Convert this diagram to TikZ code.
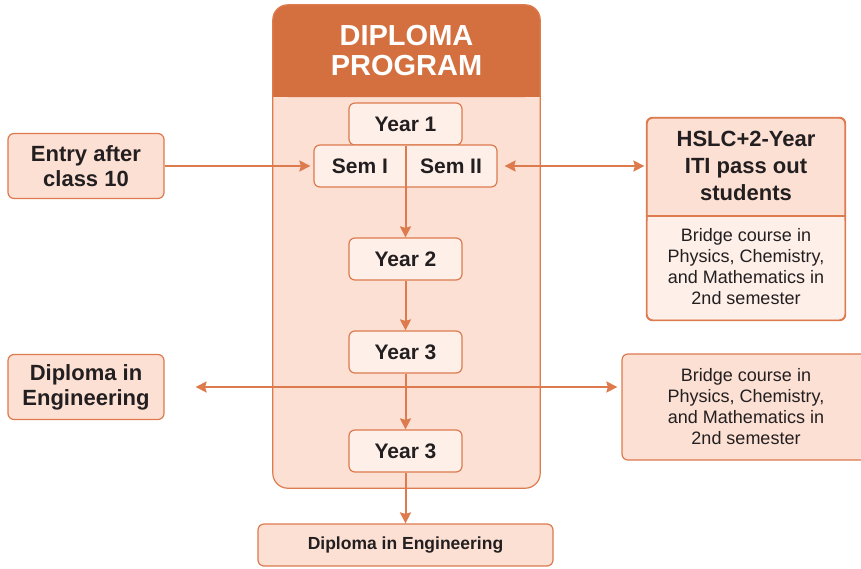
\documentclass[tikz,border=0pt]{standalone}
\usepackage{fontspec}
\setmainfont{Liberation Sans}
\usetikzlibrary{arrows.meta}
\definecolor{hdr}{HTML}{D4703F}
\definecolor{edge}{HTML}{DD7A4E}
\definecolor{lfill}{HTML}{FCE0D4}
\definecolor{llfill}{HTML}{FEF0E9}
\definecolor{ink}{HTML}{231F20}
\tikzset{
  x=1pt, y=-1pt,
  box/.style={draw=edge, line width=1.2pt, rounded corners=6pt, inner sep=0pt, text=ink, align=center},
  yearbox/.style={box, fill=llfill, minimum width=113pt, minimum height=42pt, font=\fontsize{21}{24}\selectfont\bfseries},
  sidebox/.style={box, fill=lfill, minimum width=156pt, minimum height=65pt, font=\fontsize{22}{25}\selectfont\bfseries},
  plain/.style={inner sep=0pt, text=ink, align=center},
  tip/.tip={Stealth[length=11pt,width=11pt,inset=1.5pt]},
  arr/.style={draw=edge, line width=2pt, -tip},
  darr/.style={draw=edge, line width=2pt, tip-tip},
}
\begin{document}
\begin{tikzpicture}
\useasboundingbox (0,0) rectangle (861,568);
\clip (0,0) rectangle (861,568);
% main program box
\node[fill=lfill, rounded corners=15pt, minimum width=267pt, minimum height=483pt, inner sep=0pt] (prog) at (406.5,246.5) {};
\fill[hdr, rounded corners=15pt] (273,97) -- (273,5) -- (540,5) -- (540,97) -- cycle;
\fill[hdr] (273,60) rectangle (540,97);
\draw[edge, line width=1.2pt, rounded corners=15pt] (prog.north west) rectangle (prog.south east);
\node[plain, text=white, font=\fontsize{29}{30}\selectfont\bfseries] (title) at (406.5,51) {DIPLOMA\\PROGRAM};
% years
\node[yearbox] (y1) at (405.5,124) {Year 1};
\node[box, fill=llfill, minimum width=183pt, minimum height=42pt] (sem) at (405.5,166) {};
\node[plain, font=\fontsize{21}{24}\selectfont\bfseries] (s1) at (360,166) {Sem I};
\node[plain, font=\fontsize{21}{24}\selectfont\bfseries] (s2) at (451,166) {Sem II};
\node[yearbox] (y2) at (405.5,259) {Year 2};
\node[yearbox] (y3) at (405.5,352) {Year 3};
\node[yearbox] (y3b) at (405.5,451) {Year 3};
\node[box, fill=lfill, minimum width=295pt, minimum height=42pt, font=\fontsize{17.5}{20}\selectfont\bfseries] (dip) at (405.5,545) {Diploma in Engineering};
% side boxes
\node[sidebox] (entry) at (86,166) {Entry after\\class 10};
\node[sidebox] (dipl) at (86,387) {Diploma in\\Engineering};
% HSLC box
\node[box, fill=lfill, minimum width=198pt, minimum height=202pt] (hslc) at (746,219) {};
\fill[llfill, rounded corners=6pt] (647.6,216) -- (647.6,319.4) -- (844.4,319.4) -- (844.4,216) -- cycle;
\fill[llfill] (647.6,216) rectangle (844.4,300);
\draw[edge, line width=1.2pt, rounded corners=6pt] (hslc.north west) rectangle (hslc.south east);
\draw[edge, line width=1.2pt] (hslc.west |- 0,216) -- (hslc.east |- 0,216);
\node[plain, font=\fontsize{22}{27}\selectfont\bfseries] (htitle) at (746,166) {HSLC+2-Year\\ITI pass out\\students};
\node[plain, font=\fontsize{18}{21}\selectfont] (hbody) at (746,267) {Bridge course in\\Physics, Chemistry,\\and Mathematics in\\2nd semester};
% bridge box right
\node[box, fill=lfill, minimum width=248pt, minimum height=106pt, font=\fontsize{18}{21}\selectfont] (br) at (746,407) {Bridge course in\\Physics, Chemistry,\\and Mathematics in\\2nd semester};
% connectors
\draw[arr] (y1.south) -- (y2.north);
\draw[arr] (y2.south) -- (y3.north);
\draw[arr] (y3.south) -- (y3b.north);
\draw[arr] (y3b.south) -- (dip.north);
\draw[arr, shorten >=3pt] (entry.east) -- (sem.west);
\draw[darr, shorten <=7pt, shorten >=2pt] (sem.east) -- (sem.east -| hslc.west);
\draw[darr, shorten <=31pt, shorten >=4pt] (dipl.east) -- (dipl.east -| br.west);
\end{tikzpicture}
\end{document}
